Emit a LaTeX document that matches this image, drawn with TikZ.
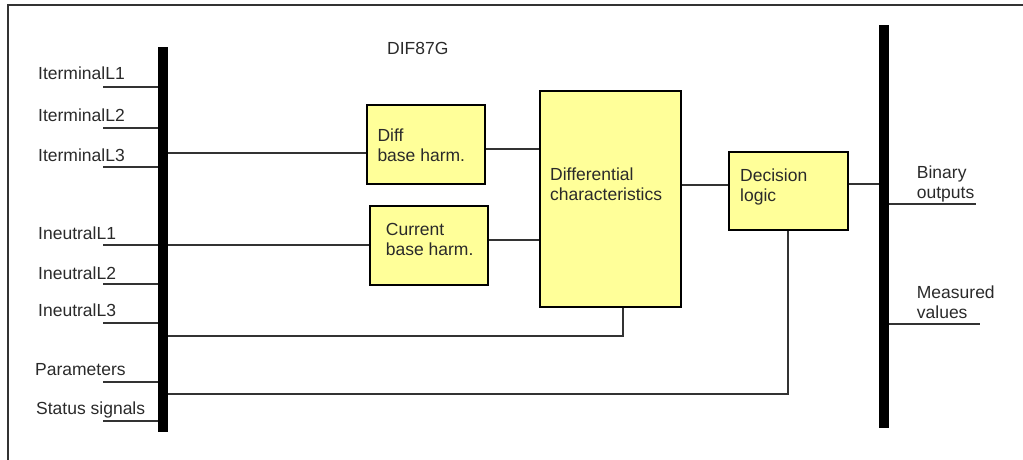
\documentclass[tikz,border=0pt]{standalone}
\usepackage{fontspec}
\setmainfont{Liberation Sans}
\definecolor{boxfill}{HTML}{FFFF99}
\definecolor{txt}{HTML}{2A2A2A}
\definecolor{wire}{HTML}{333333}
\begin{document}
\begin{tikzpicture}[x=1pt,y=-1pt,
  lbl/.style={anchor=base west,inner sep=0pt,align=left,text=txt,font=\fontsize{17.5}{20.5}\selectfont},
  blk/.style={draw=black,line width=1.6pt,fill=boxfill,inner sep=0pt},
  busbar/.style={fill=black,inner sep=0pt,minimum width=10pt},
  wireline/.style={draw=wire,line width=1.2pt},
  framel/.style={draw=wire,line width=1.5pt}]
\useasboundingbox (0,0) rectangle (1023,460);
% frame (top and left edges visible)
\coordinate (ftr) at (1023,5);
\coordinate (ftl) at (8,5);
\coordinate (fbl) at (8,460);
\draw[framel] (ftr) -- (ftl) -- (fbl);
% bars
\node[busbar,minimum height=385pt] (lbar) at (163,239.5) {};
\node[busbar,minimum height=403pt] (rbar) at (884,226.5) {};
% blocks
\node[blk,minimum width=118pt,minimum height=79pt] (diff) at (426,144.5) {};
\node[blk,minimum width=118pt,minimum height=79pt] (curr) at (429,245.5) {};
\node[blk,minimum width=141pt,minimum height=216pt] (char) at (610.5,199) {};
\node[blk,minimum width=119pt,minimum height=78pt] (dec) at (788.5,191) {};
% block texts (base anchor = baseline of last line)
\node[lbl] (tdiff) at (377.3,161.7) {Diff\\base harm.};
\node[lbl] (tcurr) at (385.7,255.7) {Current\\base harm.};
\node[lbl] (tchar) at (550,200.9) {Differential\\characteristics};
\node[lbl] (tdec) at (740,201.9) {Decision\\logic};
\node[lbl] (ttitle) at (387,55) {DIF87G};
% input labels
\node[lbl] (i1) at (38,80) {IterminalL1};
\node[lbl] (i2) at (38,121.5) {IterminalL2};
\node[lbl] (i3) at (38,161.7) {IterminalL3};
\node[lbl] (n1) at (38,239) {IneutralL1};
\node[lbl] (n2) at (38,279.3) {IneutralL2};
\node[lbl] (n3) at (38,316.7) {IneutralL3};
\node[lbl] (par) at (35,375.7) {Parameters};
\node[lbl] (sts) at (36,414) {Status signals};
% output labels
\node[lbl] (bo) at (916.7,198.5) {Binary\\outputs};
\node[lbl] (mv) at (916.7,318.5) {Measured\\values};
% input stubs
\foreach \nm/\yy in {s1/87,s2/128,s3/167,s4/245,s5/284,s6/323,s7/382,s8/421}{
  \coordinate (\nm) at (103,\yy);
  \draw[wireline] (\nm) -- (lbar.west |- \nm);
}
% output stubs
\coordinate (o1) at (976,204);
\coordinate (o2) at (980,324);
\draw[wireline] (rbar.east |- o1) -- (o1);
\draw[wireline] (rbar.east |- o2) -- (o2);
% connectors
\draw[wireline] (lbar.east |- 0,153) -- (diff.west |- 0,153);
\draw[wireline] (lbar.east |- 0,245) -- (curr.west |- 0,245);
\draw[wireline] (diff.east |- 0,149) -- (char.west |- 0,149);
\draw[wireline] (curr.east |- 0,240) -- (char.west |- 0,240);
\draw[wireline] (char.east |- 0,185) -- (dec.west |- 0,185);
\draw[wireline] (dec.east |- 0,184) -- (rbar.west |- 0,184);
\coordinate (k1) at (623,336);
\coordinate (k2) at (788,394);
\draw[wireline] (lbar.east |- k1) -- (k1) -- (k1 |- char.south);
\draw[wireline] (lbar.east |- k2) -- (k2) -- (k2 |- dec.south);
\end{tikzpicture}
\end{document}
